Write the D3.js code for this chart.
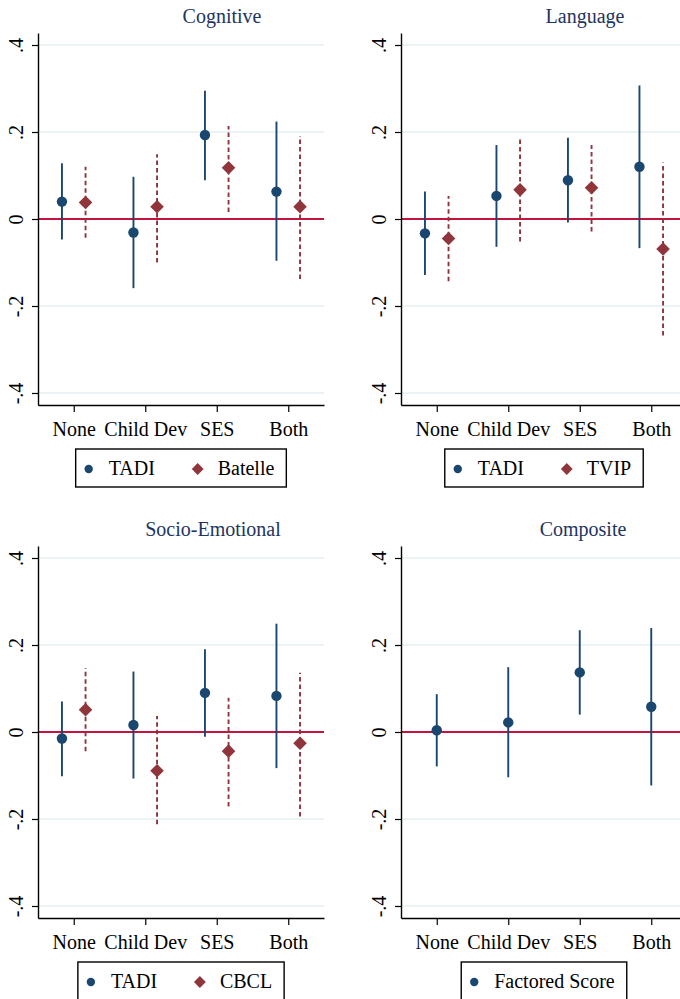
<!DOCTYPE html>
<html>
<head>
<meta charset="utf-8">
<script src="https://cdn.jsdelivr.net/npm/d3@7"></script>
<style>
  body { margin: 0; background: #fff; }
  svg { display: block; font-family: "Liberation Serif", "Times New Roman", serif; }
</style>
</head>
<body>
<svg id="chart" width="680" height="999"></svg>
<script>
// categories + y ticks
const categories = ['None', 'Child Dev', 'SES', 'Both'];
const yTicks = [-0.4, -0.2, 0, 0.2, 0.4];
const yTickLabels = ['-.4', '-.2', '0', '.2', '.4'];

// Cognitive
const cogTadi = [0.040, -0.031, 0.193, 0.063];
const cogTadiLo = [-0.047, -0.159, 0.089, -0.096];
const cogTadiHi = [0.128, 0.097, 0.295, 0.224];
const cogBatelle = [0.038, 0.028, 0.118, 0.028];
const cogBatelleLo = [-0.043, -0.100, 0.016, -0.138];
const cogBatelleHi = [0.120, 0.149, 0.214, 0.191];

// Language
const langTadi = [-0.033, 0.053, 0.089, 0.120];
const langTadiLo = [-0.129, -0.064, -0.008, -0.067];
const langTadiHi = [0.063, 0.170, 0.187, 0.307];
const langTvip = [-0.045, 0.067, 0.072, -0.069];
const langTvipLo = [-0.143, -0.052, -0.029, -0.268];
const langTvipHi = [0.053, 0.189, 0.170, 0.130];

// Socio-Emotional
const seTadi = [-0.015, 0.016, 0.090, 0.083];
const seTadiLo = [-0.102, -0.107, -0.011, -0.083];
const seTadiHi = [0.070, 0.139, 0.190, 0.249];
const seCbcl = [0.051, -0.089, -0.044, -0.026];
const seCbclLo = [-0.044, -0.212, -0.171, -0.194];
const seCbclHi = [0.147, 0.037, 0.079, 0.136];

// Composite
const compScore = [0.004, 0.022, 0.137, 0.058];
const compScoreLo = [-0.079, -0.104, 0.040, -0.123];
const compScoreHi = [0.087, 0.149, 0.234, 0.239];

const navy = '#1a476f', maroon = '#90353b', zeroCol = '#c4133c', titleCol = '#1e3461';

const svg = d3.select('#chart');

function series(name, shape, est, lo, hi) {
    return { name: name, shape: shape, est: est, lo: lo, hi: hi };
}

const panels = [
    { title: 'Cognitive', ox: 38, oy: 33, titleX: 222,
      series: [series('TADI', 'circle', cogTadi, cogTadiLo, cogTadiHi),
               series('Batelle', 'diamond', cogBatelle, cogBatelleLo, cogBatelleHi)] },
    { title: 'Language', ox: 401, oy: 33, titleX: 585,
      series: [series('TADI', 'circle', langTadi, langTadiLo, langTadiHi),
               series('TVIP', 'diamond', langTvip, langTvipLo, langTvipHi)] },
    { title: 'Socio-Emotional', ox: 38, oy: 546, titleX: 213,
      series: [series('TADI', 'circle', seTadi, seTadiLo, seTadiHi),
               series('CBCL', 'diamond', seCbcl, seCbclLo, seCbclHi)] },
    { title: 'Composite', ox: 401, oy: 546, titleX: 583,
      series: [series('Factored Score', 'circle', compScore, compScoreLo, compScoreHi)] }
];

const W = 286, H = 372;
const offset = 0.165; // category units between paired series

panels.forEach(p => {
    let g = svg.append('g').attr('transform', `translate(${p.ox},${p.oy})`);

    let x = d3.scaleLinear().domain([0.5, 4.5]).range([0, W]);
    let y = d3.scaleLinear().domain([-0.4276, 0.4276]).range([H, 0]);

    // title
    svg.append('text')
        .attr('x', p.titleX).attr('y', p.oy - 10)
        .attr('text-anchor', 'middle')
        .attr('font-size', 20)
        .attr('fill', titleCol)
        .text(p.title);

    // gridlines
    g.selectAll('.grid')
        .data(yTicks.filter(d => d !== 0))
        .enter().append('line')
        .attr('x1', 0).attr('x2', W)
        .attr('y1', d => y(d)).attr('y2', d => y(d))
        .attr('stroke', '#e6eff1').attr('stroke-width', 1.3);

    // zero line
    g.append('line')
        .attr('x1', 0).attr('x2', W)
        .attr('y1', y(0)).attr('y2', y(0))
        .attr('stroke', zeroCol).attr('stroke-width', 1.8);

    // y axis
    let yAxis = g.append('g')
        .call(d3.axisLeft(y).tickValues(yTicks)
            .tickFormat((d, i) => yTickLabels[i])
            .tickSize(6).tickSizeOuter(0));
    yAxis.selectAll('text')
        .attr('x', null).attr('dy', null)
        .attr('transform', 'translate(-15,0) rotate(-90)')
        .attr('text-anchor', 'middle')
        .attr('font-size', 20).attr('fill', '#000')
        .style('font-family', '"Liberation Serif", serif');

    // x axis
    let xAxis = g.append('g')
        .attr('transform', `translate(0,${H})`)
        .call(d3.axisBottom(x).tickValues([1, 2, 3, 4])
            .tickFormat((d, i) => categories[i])
            .tickSize(7).tickSizeOuter(0));
    xAxis.selectAll('text')
        .attr('y', 31).attr('dy', null)
        .attr('font-size', 20).attr('fill', '#000')
        .style('font-family', '"Liberation Serif", serif');

    [yAxis, xAxis].forEach(a => {
        a.select('.domain').attr('stroke', '#000').attr('stroke-width', 1.4);
        a.selectAll('.tick line').attr('stroke', '#000').attr('stroke-width', 1.2);
    });

    // estimates with CIs
    let n = p.series.length;
    p.series.forEach((s, si) => {
        let shift = n === 1 ? 0 : (si === 0 ? -offset : offset);
        let col = s.shape === 'circle' ? navy : maroon;
        let rows = categories.map((c, i) => ({ i: i + 1, est: s.est[i], lo: s.lo[i], hi: s.hi[i] }));

        g.selectAll('.ci' + si)
            .data(rows)
            .enter().append('line')
            .attr('x1', d => x(d.i + shift)).attr('x2', d => x(d.i + shift))
            .attr('y1', d => y(d.lo)).attr('y2', d => y(d.hi))
            .attr('stroke', col).attr('stroke-width', 1.9)
            .attr('stroke-dasharray', s.shape === 'diamond' ? '4.5,3' : null);

        if (s.shape === 'circle') {
            g.selectAll('.pt' + si)
                .data(rows)
                .enter().append('circle')
                .attr('cx', d => x(d.i + shift)).attr('cy', d => y(d.est))
                .attr('r', 5.2).attr('fill', col);
        } else {
            g.selectAll('.pt' + si)
                .data(rows)
                .enter().append('path')
                .attr('d', d3.symbol().type(d3.symbolSquare).size(92))
                .attr('transform', d => `translate(${x(d.i + shift)},${y(d.est)}) rotate(45)`)
                .attr('fill', col);
        }
    });

    // legend
    let lg = g.append('g').attr('transform', `translate(0,${H + 44})`);
    let items = lg.append('g');
    let cursor = 13;
    p.series.forEach((s, si) => {
        let col = s.shape === 'circle' ? navy : maroon;
        let mx = si === 0 ? 13 : 122;
        if (s.shape === 'circle') {
            items.append('circle').attr('cx', mx).attr('cy', 20).attr('r', 4.2).attr('fill', col);
        } else {
            items.append('path')
                .attr('d', d3.symbol().type(d3.symbolSquare).size(70))
                .attr('transform', `translate(${mx},20) rotate(45)`)
                .attr('fill', col);
        }
        let t = items.append('text')
            .attr('x', mx + 20).attr('y', 26)
            .attr('font-size', 20).attr('fill', '#000')
            .text(s.name);
        cursor = mx + 20 + t.node().getComputedTextLength();
    });
    let bw = cursor + 12;
    let bx = W / 2 - bw / 2;
    items.attr('transform', `translate(${bx},0)`);
    lg.insert('rect', ':first-child')
        .attr('x', bx).attr('y', 0)
        .attr('width', bw).attr('height', 38)
        .attr('fill', '#fff').attr('stroke', '#000').attr('stroke-width', 1.4);
});
</script>
</body>
</html>
